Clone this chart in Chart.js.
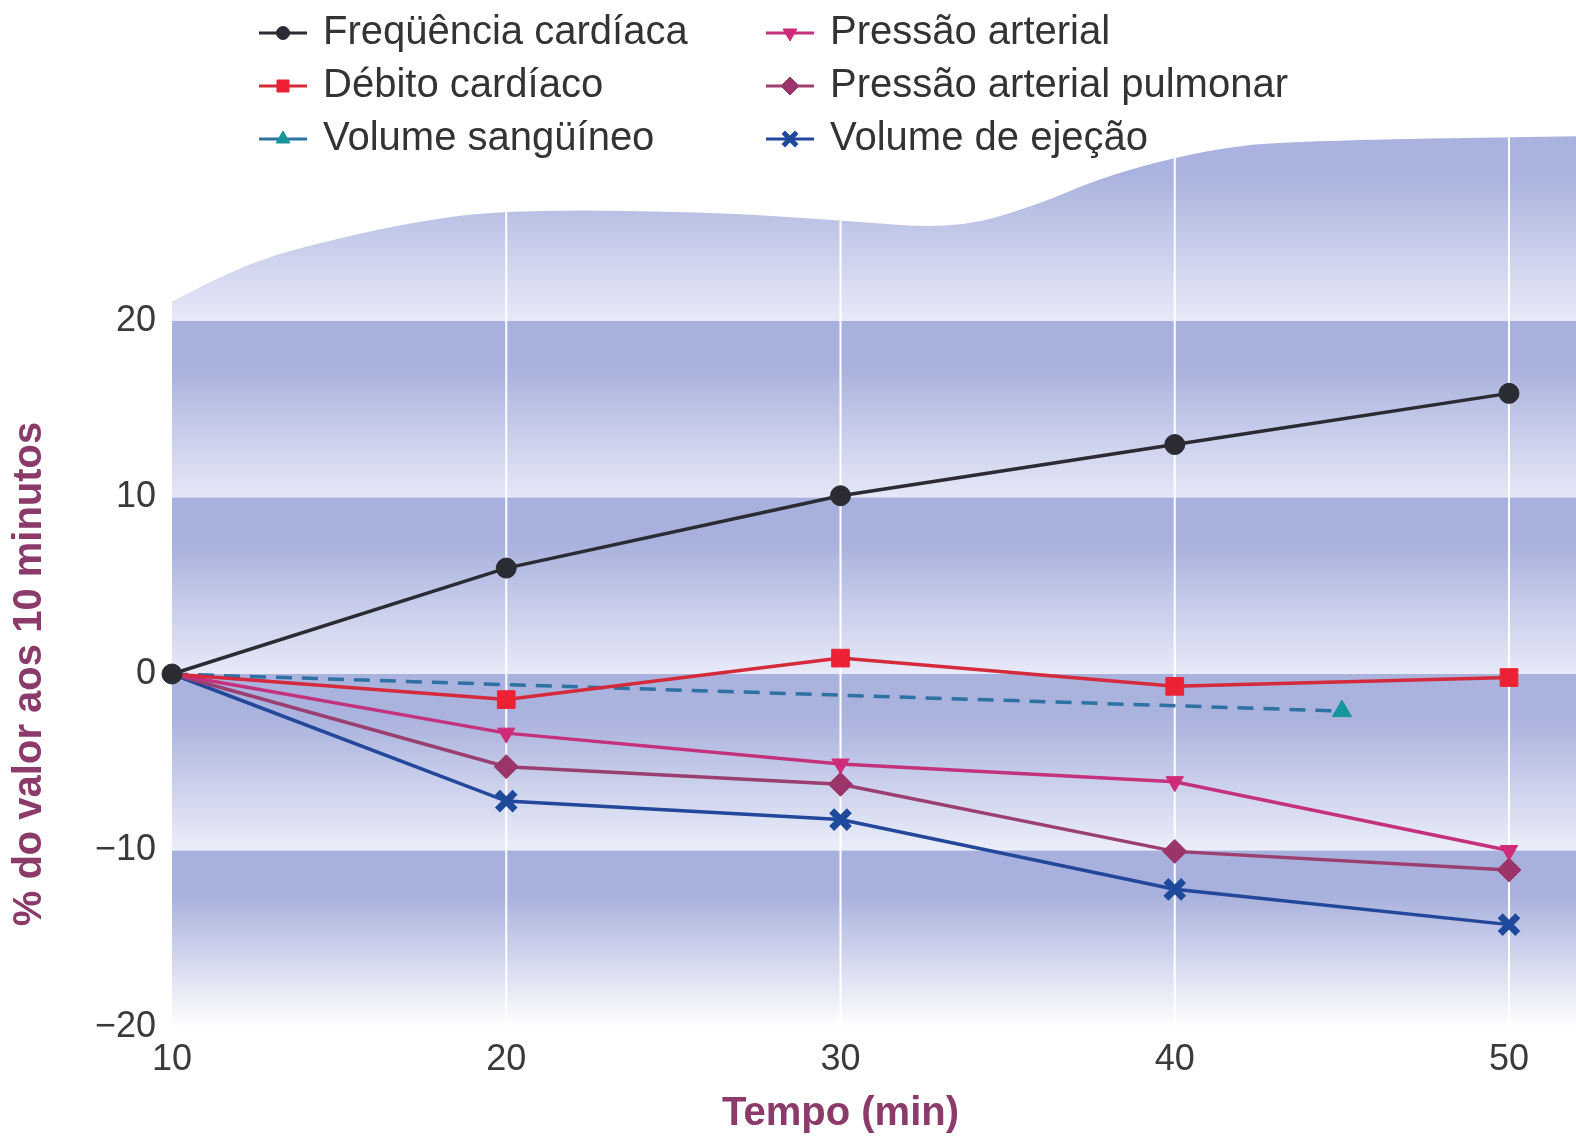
<!DOCTYPE html>
<html>
<head>
<meta charset="utf-8">
<script src="https://cdn.jsdelivr.net/npm/chart.js@4.4.1/dist/chart.umd.min.js"></script>
<style>
  html, body { margin: 0; padding: 0; background: #fff; }
  #wrap { width: 1576px; height: 1145px; position: relative; }
</style>
</head>
<body>
<div id="wrap"><canvas id="fisio"></canvas></div>
<script>
// tempo (min) e % do valor aos 10 minutos
const tempo = [10, 20, 30, 40, 50];
const freqCardiaca = [0, 6.0, 10.1, 13.0, 15.9];
const debitoCardiaco = [0, -1.45, 0.9, -0.7, -0.2];
const pressaoArterial = [0, -3.35, -5.1, -6.1, -10.0];
const pressaoPulmonar = [0, -5.25, -6.25, -10.05, -11.1];
const volumeEjecao = [0, -7.2, -8.25, -12.2, -14.2];
const tempoVolume = [10, 45];
const volumeSanguineo = [0, -2.1];
const yTicks = [-20, -10, 0, 10, 20];
const xTicks = [10, 20, 30, 40, 50];

// contorno ondulado do fundo (decoracao, em unidades dos eixos)
const ondaX = [10, 10.9, 12.4, 13.9, 16.9, 19.9, 25.9, 30, 33.4, 35.8, 37.9, 40.9, 43.4, 53];
const ondaY = [21.1, 22.0, 23.3, 24.2, 25.5, 26.3, 26.2, 25.7, 25.2, 26.5, 28.2, 29.7, 30.2, 30.5];

const pts = (xs, ys) => xs.map((v, i) => ({ x: v, y: ys[i] }));
const fonte = "'Liberation Sans', Arial, sans-serif";

const fundo = {
  id: 'fundo',
  beforeDraw(chart) {
    const { ctx, chartArea, scales: { x, y } } = chart;
    const left = chartArea.left, right = chart.width;
    ctx.save();
    ctx.fillStyle = '#fff';
    ctx.fillRect(0, 0, chart.width, chart.height);

    const px = ondaX.map(v => x.getPixelForValue(v));
    const py = ondaY.map(v => y.getPixelForValue(v));
    ctx.beginPath();
    ctx.moveTo(left, y.getPixelForValue(-20));
    ctx.lineTo(px[0], py[0]);
    for (let i = 1; i < px.length - 1; i++) {
      ctx.quadraticCurveTo(px[i], py[i], (px[i] + px[i + 1]) / 2, (py[i] + py[i + 1]) / 2);
    }
    ctx.lineTo(px[px.length - 1], py[py.length - 1]);
    ctx.lineTo(right, py[py.length - 1]);
    ctx.lineTo(right, y.getPixelForValue(-20));
    ctx.closePath();
    ctx.clip();

    const faixa = (v0, v1, c0, c1) => {
      const t = y.getPixelForValue(v1), b = y.getPixelForValue(v0);
      const g = ctx.createLinearGradient(0, t, 0, b);
      g.addColorStop(0, c0);
      g.addColorStop(0.25, c0);
      g.addColorStop(1, c1);
      ctx.fillStyle = g;
      ctx.fillRect(left, t, right - left, b - t);
    };
    faixa(20, 31, '#aab3df', '#e8eaf8');
    faixa(10, 20, '#a8b1dd', '#e6e8f7');
    faixa(0, 10, '#a8b1dd', '#e8eaf8');
    faixa(-10, 0, '#aab2de', '#eceef9');
    faixa(-20, -10, '#a8b1dd', '#ffffff');

    ctx.strokeStyle = '#ffffff';
    ctx.lineWidth = 2;
    [20, 30, 40, 50].forEach(v => {
      const xp = x.getPixelForValue(v);
      ctx.beginPath();
      ctx.moveTo(xp, y.getPixelForValue(-20));
      ctx.lineTo(xp, y.getPixelForValue(32));
      ctx.stroke();
    });
    ctx.restore();
  }
};

const legenda = {
  id: 'legenda',
  afterDraw(chart) {
    const ctx = chart.ctx;
    const colX = [259, 766];
    const rowY = [33, 86, 139];
    const tamanhos = [6.5, 8.5, 8, 8, 9, 9.5];
    ctx.save();
    chart.data.datasets.forEach((ds, i) => {
      const x0 = colX[Math.floor(i / 3)], yy = rowY[i % 3];
      ctx.strokeStyle = ds.borderColor;
      ctx.lineWidth = 3;
      ctx.setLineDash([]);
      ctx.beginPath();
      ctx.moveTo(x0, yy);
      ctx.lineTo(x0 + 48, yy);
      ctx.stroke();
      const cruz = ds.pointStyle === 'crossRot';
      ctx.fillStyle = ds.pointBackgroundColor;
      ctx.strokeStyle = ds.pointBorderColor;
      ctx.lineWidth = cruz ? 5 : 1;
      Chart.helpers.drawPoint(ctx, {
        pointStyle: ds.pointStyle,
        rotation: ds.pointRotation || 0,
        radius: tamanhos[i],
        borderWidth: cruz ? 5 : 1
      }, x0 + 24, yy);
      ctx.fillStyle = '#333333';
      ctx.font = '40px ' + fonte;
      ctx.textBaseline = 'middle';
      ctx.textAlign = 'left';
      ctx.fillText(ds.label, x0 + 64, yy);
    });
    ctx.restore();
  }
};

const serie = (label, data, cor, corPonto, estilo, raio, extra) => Object.assign({
  label: label,
  data: data,
  borderColor: cor,
  borderWidth: 3.5,
  pointStyle: estilo,
  pointBackgroundColor: corPonto,
  pointBorderColor: corPonto,
  pointBorderWidth: 1,
  pointRadius: data.map((p, i) => i === 0 ? 0 : raio),
  tension: 0,
  fill: false,
  clip: false
}, extra || {});

new Chart(document.getElementById('fisio'), {
  type: 'line',
  data: {
    datasets: [
      serie('Freqüência cardíaca', pts(tempo, freqCardiaca), '#2b2b33', '#2b2b33', 'circle', 10,
        { pointRadius: 10 }),
      serie('Débito cardíaco', pts(tempo, debitoCardiaco), '#d42a3c', '#ec2234', 'rect', 12.5),
      serie('Volume sangüíneo', pts(tempoVolume, volumeSanguineo), '#2d72a3', '#17959c', 'triangle', 11,
        { borderDash: [16, 10], borderWidth: 3.5 }),
      serie('Pressão arterial', pts(tempo, pressaoArterial), '#c4317c', '#d12a78', 'triangle', 10,
        { pointRotation: 180 }),
      serie('Pressão arterial pulmonar', pts(tempo, pressaoPulmonar), '#9a3f70', '#9b3569', 'rectRot', 12),
      serie('Volume de ejeção', pts(tempo, volumeEjecao), '#22479b', '#1f4a9c', 'crossRot', 12.5,
        { pointBorderWidth: 7 })
    ]
  },
  plugins: [fundo, legenda],
  options: {
    responsive: true,
    maintainAspectRatio: false,
    animation: false,
    layout: { padding: { top: 321, right: 67, left: 0, bottom: 0 } },
    plugins: {
      legend: { display: false },
      tooltip: { enabled: false }
    },
    scales: {
      x: {
        type: 'linear',
        min: 10,
        max: 50,
        afterBuildTicks: s => { s.ticks = xTicks.map(v => ({ value: v })); },
        afterFit: s => { s.height = 118; },
        grid: { display: false, drawTicks: false },
        border: { display: false },
        ticks: { color: '#3a3a3a', font: { family: fonte, size: 36 }, padding: 11 },
        title: {
          display: true,
          text: 'Tempo (min)',
          color: '#8c3a6a',
          font: { family: fonte, size: 40, weight: 'bold' },
          padding: { top: 0, bottom: 7 }
        }
      },
      y: {
        min: -20,
        max: 20,
        afterBuildTicks: s => { s.ticks = yTicks.map(v => ({ value: v })); },
        afterFit: s => { s.width = 172; },
        grid: { display: false, drawTicks: false },
        border: { display: false },
        ticks: {
          color: '#3a3a3a',
          font: { family: fonte, size: 36 },
          padding: 16,
          callback: v => String(v).replace('-', '\u2212')
        },
        title: {
          display: true,
          text: '% do valor aos 10 minutos',
          color: '#8c3a6a',
          font: { family: fonte, size: 40, weight: 'bold' },
          padding: { top: 6, bottom: 0 }
        }
      }
    }
  }
});
</script>
</body>
</html>
